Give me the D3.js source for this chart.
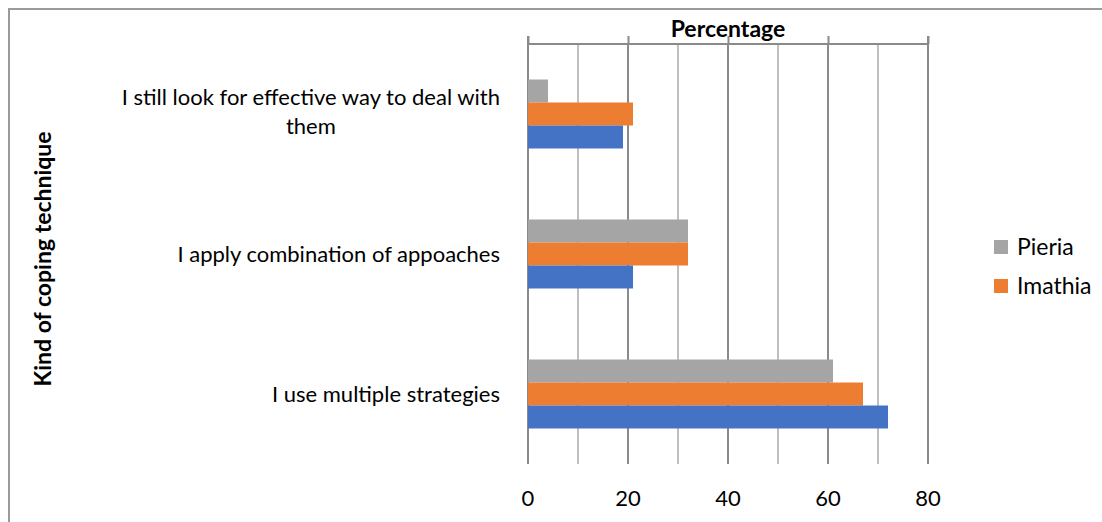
<!DOCTYPE html>
<html>
<head>
<meta charset="utf-8">
<script src="https://cdn.jsdelivr.net/npm/d3@7/dist/d3.min.js"></script>
<style>
  html, body { margin: 0; padding: 0; background: #fff; }
  svg { display: block; }
  text { font-family: Lato, "Open Sans", sans-serif; fill: #000; }
</style>
</head>
<body>
<svg id="chart" width="1102" height="522"></svg>
<script>
// Coping techniques (top to bottom) and percentage per region
const categories = [
  "I still look for effective way to deal with them",
  "I apply combination of appoaches",
  "I use multiple strategies"
];
const categoryLines = [
  ["I still look for effective way to deal with", "them"],
  ["I apply combination of appoaches"],
  ["I use multiple strategies"]
];
const seriesNames = ["Pieria", "Imathia", "Region3"];
const pieria  = [4, 32, 61];
const imathia = [21, 32, 67];
const region3 = [19, 21, 72];
const seriesValues = [pieria, imathia, region3];
const seriesColors = ["#A5A5A5", "#ED7D31", "#4472C4"];
const legendNames = ["Pieria", "Imathia"];
const majorTicks = [0, 20, 40, 60, 80];
const minorTicks = [10, 30, 50, 70];

const svg = d3.select("#chart");

// outer frame of the chart area
svg.append("rect")
  .attr("x", 9).attr("y", 9)
  .attr("width", 1200).attr("height", 600)
  .attr("fill", "none").attr("stroke", "#9a9a9a").attr("stroke-width", 2);

const x = d3.scaleLinear().domain([0, 80]).range([528, 928]);
const y = d3.scaleBand().domain(categories).range([44, 464]).padding(0);
const groupH = y.bandwidth() / 2.03;
const ySeries = d3.scaleBand().domain(seriesNames).range([0, groupH]).padding(0);

// gridlines
const grid = svg.append("g");
grid.selectAll("line.minor").data(minorTicks).join("line")
  .attr("class", "minor")
  .attr("x1", d => x(d)).attr("x2", d => x(d))
  .attr("y1", 44).attr("y2", 464)
  .attr("stroke", "#bfbfbf").attr("stroke-width", 2);
grid.selectAll("line.major").data(majorTicks).join("line")
  .attr("class", "major")
  .attr("x1", d => x(d)).attr("x2", d => x(d))
  .attr("y1", 44).attr("y2", 464)
  .attr("stroke", "#8a8a8a").attr("stroke-width", 2);

// top axis with outward ticks
const axisTop = d3.axisTop(x).tickValues(majorTicks).tickSize(8).tickFormat("");
const gTop = svg.append("g").attr("transform", "translate(0,44)").call(axisTop);
gTop.selectAll("path,line").attr("stroke", "#8a8a8a").attr("stroke-width", 2);
gTop.select("path.domain").attr("d", `M${x(0)},-8V0H${x(80)}V-8`);

// tick labels below the plot
svg.append("g").selectAll("text").data(majorTicks).join("text")
  .attr("x", d => x(d)).attr("y", 506)
  .attr("text-anchor", "middle")
  .style("font-size", "22px")
  .text(d => d);

// bars
categories.forEach((cat, ci) => {
  const top = y(cat) + (y.bandwidth() - groupH) / 2;
  seriesNames.forEach((s, si) => {
    svg.append("rect")
      .attr("x", x(0))
      .attr("y", top + ySeries(s))
      .attr("width", x(seriesValues[si][ci]) - x(0))
      .attr("height", ySeries.bandwidth())
      .attr("fill", seriesColors[si]);
  });
});

// category labels
const labelSize = 22;
categories.forEach((cat, ci) => {
  const lines = categoryLines[ci];
  const cy = y(cat) + y.bandwidth() / 2;
  const lh = 29;
  const t = svg.append("text")
    .style("font-size", labelSize + "px")
    .attr("text-anchor", "end");
  if (lines.length === 1) {
    t.attr("x", 500).attr("y", cy + 8).text(lines[0]);
  } else {
    const first = t.attr("x", 500).attr("y", cy - lh / 2 + 5).text(lines[0]);
    const w = first.node().getComputedTextLength();
    svg.append("text")
      .style("font-size", labelSize + "px")
      .attr("text-anchor", "middle")
      .attr("x", 500 - w / 2)
      .attr("y", cy + lh / 2 + 5)
      .text(lines[1]);
  }
});

// axis titles
svg.append("text")
  .attr("x", x(40)).attr("y", 37)
  .attr("text-anchor", "middle")
  .style("font-size", "23px").style("font-weight", "bold")
  .text("Percentage");
svg.append("text")
  .attr("transform", "translate(51,259) rotate(-90)")
  .attr("text-anchor", "middle")
  .style("font-size", "23px").style("font-weight", "bold")
  .text("Kind of coping technique");

// legend
const legend = svg.append("g");
legendNames.forEach((n, i) => {
  const ly = 240 + i * 39;
  legend.append("rect")
    .attr("x", 994).attr("y", ly).attr("width", 14).attr("height", 14)
    .attr("fill", seriesColors[seriesNames.indexOf(n)]);
  legend.append("text")
    .attr("x", 1017).attr("y", ly + 15)
    .style("font-size", "23px")
    .text(n);
});
</script>
</body>
</html>
